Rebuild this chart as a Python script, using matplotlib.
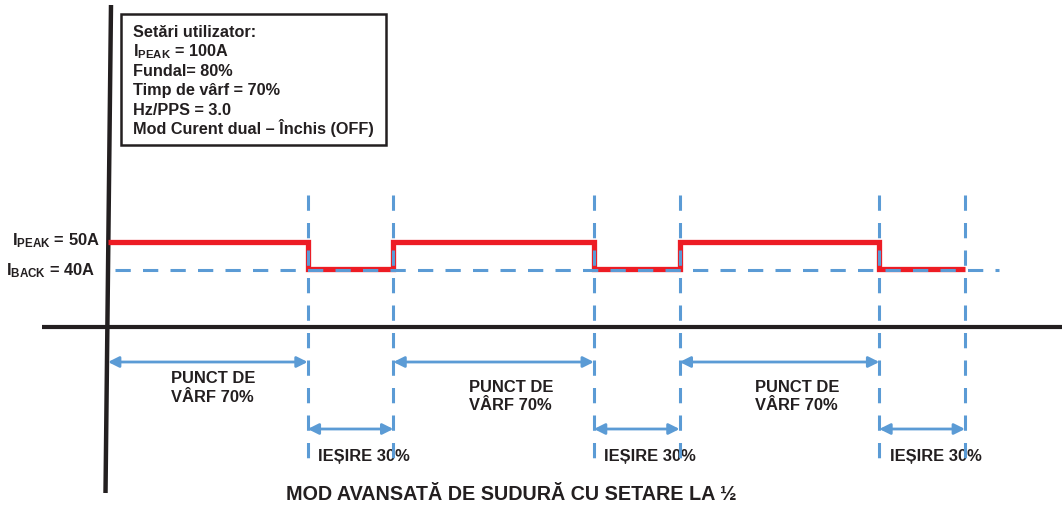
import matplotlib
matplotlib.use("Agg")
import matplotlib.pyplot as plt
from matplotlib.patches import Rectangle
from matplotlib.transforms import blended_transform_factory

plt.rcParams.update({
    "font.family": "Liberation Sans",
    "font.weight": "bold",
    "mathtext.fontset": "custom",
    "mathtext.rm": "Liberation Sans:bold",
    "mathtext.it": "Liberation Sans:bold",
    "mathtext.bf": "Liberation Sans:bold",
})

# ---- data: one pulse train, Hz/PPS = 3.0 -> period 333 ms, 70% peak time ----
EDGES_MS = [0, 233, 333, 567, 667, 900, 1000]      # step edges
CURRENT_A = [50, 40, 50, 40, 50, 40]                # level in each interval
PHASES = ["peak", "back", "peak", "back", "peak", "back"]
I_PEAK, I_BACK = 50, 40
PEAK_LABEL = "PUNCT DE\nVÂRF 70%"
BACK_LABEL = "IEȘIRE 30%"
SETTINGS = ["Setări utilizator:",
            "I$_{\\rm PEAK}$ = 100A",
            "Fundal= 80%",
            "Timp de vârf = 70%",
            "Hz/PPS = 3.0",
            "Mod Curent dual – Închis (OFF)"]
TITLE = "MOD AVANSATĂ DE SUDURĂ CU SETARE LA ½"

RED, BLUE, INK = "#ed1c24", "#5b9bd5", "#231f20"
BOLD = dict(family="Liberation Sans", weight="bold", color=INK)
LAB_FS, BOX_FS, TITLE_FS = 11.9, 11.7, 14.2

W, H = 1062, 509
fig = plt.figure(figsize=(W / 100, H / 100), dpi=100)

# layout layer in reference pixels (y down)
lay = fig.add_axes([0, 0, 1, 1])
lay.set_xlim(0, W)
lay.set_ylim(H, 0)
lay.axis("off")

# data layer: time [ms] vs current [A]
ax = fig.add_axes([0, 0, 1, 1])
ax.patch.set_alpha(0)
ax.axis("off")
PX_PER_MS, PX_PER_A = 0.857, 2.7
ax.set_xlim(-108 / PX_PER_MS, (W - 108) / PX_PER_MS)
ax.set_ylim(I_PEAK - (H - 242) / PX_PER_A, I_PEAK + 242 / PX_PER_A)
bl = blended_transform_factory(ax.transData, lay.transData)

# axes of the schematic
lay.plot([111, 105.5], [5, 493], color=INK, lw=3.2, solid_capstyle="butt", zorder=2)
lay.plot([42, W], [327, 327], color=INK, lw=3.0, solid_capstyle="butt", zorder=2)

# waveform
ax.stairs(CURRENT_A, EDGES_MS, color=RED, lw=3.8, baseline=None, zorder=3)

# guides
ax.plot([EDGES_MS[0] + 8, 1040], [I_BACK - 0.5, I_BACK - 0.5], color=BLUE, lw=2.2,
        ls=(0, (5, 4)), zorder=4)
for t in EDGES_MS[1:]:
    ax.plot([t, t], [195, 465], color=BLUE, lw=2.2, ls=(0, (5, 4)),
            transform=bl, zorder=4)

# duration arrows + labels
first = True
for t0, t1, ph in zip(EDGES_MS[:-1], EDGES_MS[1:], PHASES):
    yrow = 362 if ph == "peak" else 429
    ax.annotate("", xy=(t0, yrow), xytext=(t1, yrow), xycoords=bl, textcoords=bl,
                arrowprops=dict(arrowstyle="<|-|>", color=BLUE, lw=2.0,
                                mutation_scale=16, shrinkA=0, shrinkB=0))
    mid = (t0 + t1) / 2
    if ph == "peak":
        ylab, dx = (388, 4) if first else (396.5, 12.5)
        first = False
        ax.annotate(PEAK_LABEL, xy=(mid, ylab), xycoords=bl, xytext=(dx, 0),
                    textcoords="offset points", ha="center", va="center",
                    multialignment="left", fontsize=LAB_FS, linespacing=1.3, **BOLD)
    else:
        ax.annotate(BACK_LABEL, xy=(mid, 457), xycoords=bl, xytext=(9.7, 0),
                    textcoords="offset points", ha="center", va="center",
                    fontsize=LAB_FS, **BOLD)

# level labels
ytr = blended_transform_factory(fig.transFigure, ax.transData)
ax.text(100 / W, I_PEAK + 0.6, "I$_{\\rm PEAK}$ = %dA" % I_PEAK, transform=ytr,
        ha="right", va="center", fontsize=LAB_FS, **BOLD)
ax.text(95 / W, I_BACK - 0.6, "I$_{\\rm BACK}$ = %dA" % I_BACK, transform=ytr,
        ha="right", va="center", fontsize=LAB_FS, **BOLD)

# settings box
lay.add_patch(Rectangle((121, 14), 265, 131, fill=False, ec=INK, lw=1.8, zorder=5))
for i, line in enumerate(SETTINGS):
    lay.text(133, 37 + i * 19.4, line, ha="left", va="baseline", fontsize=BOX_FS,
             zorder=6, **BOLD)

lay.text(511, 494.5, TITLE, ha="center", va="center", fontsize=TITLE_FS, **BOLD)

fig.savefig("out.png", dpi=100)
